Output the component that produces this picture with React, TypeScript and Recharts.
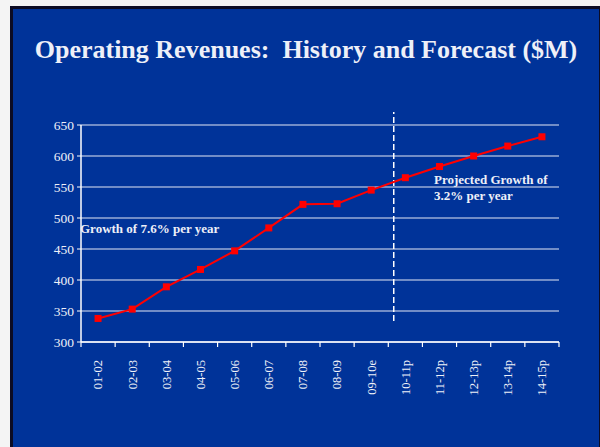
import {
  CartesianGrid,
  Line,
  LineChart,
  ReferenceLine,
  XAxis,
  YAxis,
} from "recharts"

const periods = [
  "01-02", "02-03", "03-04", "04-05", "05-06", "06-07", "07-08",
  "08-09", "09-10e", "10-11p", "11-12p", "12-13p", "13-14p", "14-15p",
]
const revenues = [338, 353, 389, 417, 447, 484, 522, 523, 545, 565, 583, 600, 616, 631]
const yTicks = [300, 350, 400, 450, 500, 550, 600, 650]
const labelTicks = periods.map((_, i) => i)
const boundaryTicks = [...periods.map((_, i) => i - 0.5), periods.length - 0.5]
// the forecast divider sits a little past the 09-10e / 10-11p boundary
const dividerAt = 8.66
const dividerRange = [334, 671]

const data = periods.map((period, i) => ({ i, period, revenue: revenues[i] }))

const serif = '"Liberation Serif", "Times New Roman", serif'
const ink = "#eef0f8"

function SquareDot(props: any) {
  const { cx, cy } = props
  if (cx == null || cy == null) return null
  return <rect x={cx - 3.5} y={cy - 3.5} width={7} height={7} fill="#ff0000" />
}

function BoundaryMark(props: any) {
  const { x, y } = props
  return <line x1={x} x2={x} y1={y} y2={y + 5} stroke="#ffffff" strokeWidth={1.2} />
}

function PeriodTick(props: any) {
  const { x, y, payload } = props
  return (
    <text
      x={x}
      y={y + 9}
      dy="0.35em"
      transform={`rotate(-90, ${x}, ${y + 9})`}
      textAnchor="end"
      fill={ink}
      fontSize={12.5}
      style={{ fontFamily: serif }}
    >
      {periods[payload.value]}
    </text>
  )
}

export default function App() {
  return (
    <div
      style={{
        position: "absolute",
        left: 0,
        top: 0,
        width: 600,
        height: 447,
        background: "#f4f4f4",
        overflow: "hidden",
      }}
    >
      <div
        style={{
          position: "absolute",
          left: 10,
          top: 6,
          width: 586,
          height: 460,
          background: "#003399",
          borderLeft: "3px solid #0c0c24",
          borderTop: "3px solid #0c0c24",
          borderRight: "3px solid #0c0c24",
        }}
      />
      <div
        style={{
          position: "absolute",
          left: 10,
          width: 592,
          top: 35,
          textAlign: "center",
          fontFamily: serif,
          fontWeight: "bold",
          fontSize: 26,
          color: ink,
        }}
      >
        Operating Revenues:&nbsp; History and Forecast ($M)
      </div>

      <div style={{ position: "absolute", left: 0, top: 0 }}>
        <LineChart
          width={600}
          height={447}
          data={data}
          margin={{ top: 125, right: 41, bottom: 45, left: 0 }}
        >
          <CartesianGrid vertical={false} stroke="#e4e8f4" strokeWidth={1} />
          <XAxis
            xAxisId="b"
            type="number"
            dataKey="i"
            domain={[-0.5, periods.length - 0.5]}
            ticks={labelTicks}
            interval={0}
            tick={<PeriodTick />}
            tickLine={false}
            axisLine={false}
            height={59}
          />
          <XAxis
            xAxisId="a"
            type="number"
            dataKey="i"
            domain={[-0.5, periods.length - 0.5]}
            ticks={boundaryTicks}
            interval={0}
            tick={<BoundaryMark />}
            tickLine={false}
            tickSize={0}
            tickMargin={0}
            height={1}
            axisLine={{ stroke: "#ffffff", strokeWidth: 1.5 }}
          />
          <YAxis
            domain={[300, 650]}
            ticks={yTicks}
            interval={0}
            width={81}
            tickSize={4}
            tickMargin={3}
            tick={{ fill: ink, fontSize: 13.5, style: { fontFamily: serif } }}
            axisLine={{ stroke: "#ffffff", strokeWidth: 1.5 }}
            tickLine={{ stroke: "#ffffff" }}
          />
          <YAxis
            yAxisId="edge"
            orientation="right"
            domain={[300, 650]}
            width={0}
            tick={false}
            tickLine={false}
            axisLine={{ stroke: "#e4e8f4", strokeWidth: 1.5 }}
          />
          <ReferenceLine
            xAxisId="b"
            segment={[
              { x: dividerAt, y: dividerRange[0] },
              { x: dividerAt, y: dividerRange[1] },
            ]}
            stroke="#ffffff"
            strokeWidth={1.5}
            strokeDasharray="6 3"
            ifOverflow="visible"
          />
          <Line
            xAxisId="b"
            type="linear"
            dataKey="revenue"
            stroke="#ff0000"
            strokeWidth={2}
            dot={<SquareDot />}
            activeDot={false}
            isAnimationActive={false}
          />
        </LineChart>
      </div>

      <div
        style={{
          position: "absolute",
          left: 80,
          top: 221,
          fontFamily: serif,
          fontWeight: "bold",
          fontSize: 13,
          color: ink,
          whiteSpace: "nowrap",
        }}
      >
        Growth of 7.6% per year
      </div>
      <div
        style={{
          position: "absolute",
          left: 434,
          top: 172,
          fontFamily: serif,
          fontWeight: "bold",
          fontSize: 13,
          lineHeight: "16px",
          color: ink,
          whiteSpace: "nowrap",
        }}
      >
        Projected Growth of
        <br />
        3.2% per year
      </div>
    </div>
  )
}
